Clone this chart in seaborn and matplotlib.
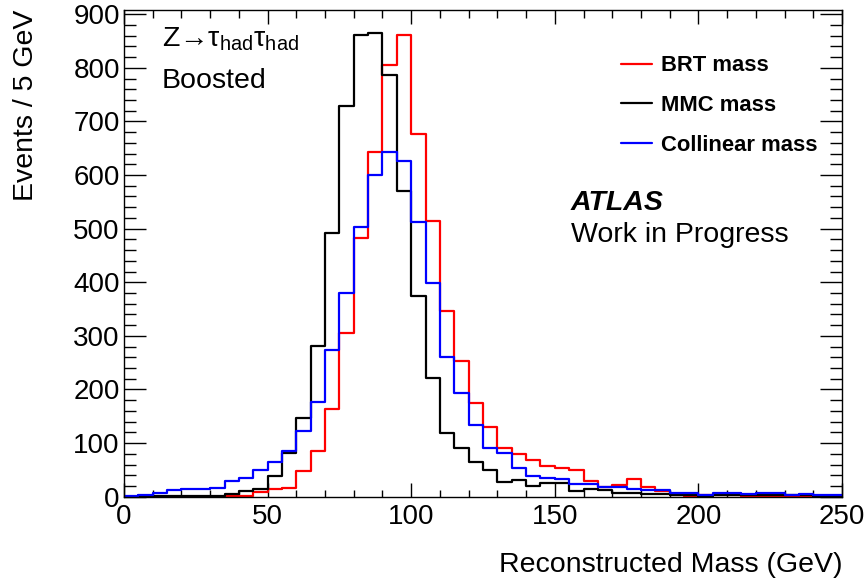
import numpy as np
import pandas as pd
import seaborn as sns
import matplotlib.pyplot as plt
from matplotlib.lines import Line2D
from matplotlib.ticker import MultipleLocator

# 5 GeV bins from 0 to 250
edges = np.arange(0, 255, 5)
centers = edges[:-1] + 2.5

brt_mass = [0, 0, 0, 0, 0, 0, 0, 1, 2, 9,
            14, 17, 48, 86, 163, 306, 483, 643, 806, 861,
            676, 514, 346, 253, 174, 130, 90, 79, 68, 57,
            54, 50, 30, 19, 22, 33, 19, 11, 3, 2,
            3, 3, 3, 2, 1, 1, 1, 1, 1, 1]
mmc_mass = [0, 0, 1, 1, 1, 1, 2, 5, 11, 14,
            39, 81, 146, 281, 492, 728, 861, 865, 786, 570,
            374, 222, 118, 90, 65, 50, 28, 31, 20, 26,
            25, 11, 14, 12, 6, 6, 5, 5, 3, 3,
            2, 3, 3, 4, 4, 4, 3, 4, 2, 1]
coll_mass = [2, 3, 6, 12, 15, 15, 17, 29, 34, 50,
             64, 86, 122, 176, 273, 380, 504, 600, 643, 626,
             512, 398, 261, 194, 134, 90, 81, 53, 39, 34,
             33, 24, 23, 19, 19, 15, 12, 12, 7, 7,
             4, 7, 7, 5, 7, 7, 4, 5, 4, 3]

labels = ['BRT mass', 'MMC mass', 'Collinear mass']
colors = ['#ff0000', '#000000', '#0000ff']

df = pd.DataFrame({
    'mass': np.tile(centers, 3),
    'events': brt_mass + mmc_mass + coll_mass,
    'method': np.repeat(labels, len(centers)),
})

sns.set_style('ticks')
plt.rcParams['font.family'] = ['Liberation Sans', 'DejaVu Sans']
plt.rcParams['mathtext.fontset'] = 'custom'
plt.rcParams['mathtext.rm'] = 'Liberation Sans'
plt.rcParams['mathtext.it'] = 'Liberation Sans:italic'
plt.rcParams['mathtext.bf'] = 'Liberation Sans:bold'
plt.rcParams['text.color'] = 'black'
plt.rcParams['axes.labelcolor'] = 'black'
plt.rcParams['axes.edgecolor'] = 'black'
plt.rcParams['xtick.color'] = 'black'
plt.rcParams['ytick.color'] = 'black'

fig = plt.figure(figsize=(8.66, 5.83), dpi=100)
ax = fig.add_axes([0.1432, 0.148, 0.9723 - 0.1432, 0.983 - 0.148])

for lab, col in zip(labels, colors):
    sub = df[df['method'] == lab]
    sns.histplot(data=sub, x='mass', weights='events', binwidth=5, binrange=(0, 250),
                 element='step', fill=False, color=col, linewidth=1.6, ax=ax)

ax.set_xlim(0, 250)
ax.set_ylim(0, 908)
ax.xaxis.set_major_locator(MultipleLocator(50))
ax.xaxis.set_minor_locator(MultipleLocator(10))
ax.yaxis.set_major_locator(MultipleLocator(100))
ax.yaxis.set_minor_locator(MultipleLocator(20))
ax.tick_params(which='both', direction='in', top=True, right=True, width=1, labelsize=20)
ax.tick_params(axis='x', which='major', length=10, pad=5)
ax.tick_params(axis='x', which='minor', length=5.4)
ax.tick_params(axis='y', which='major', length=15.8, pad=3)
ax.tick_params(axis='y', which='minor', length=8.6)
for s in ax.spines.values():
    s.set_linewidth(1)

ax.set_xlabel('Reconstructed Mass (GeV)', fontsize=20.5, loc='right', labelpad=16)
ax.set_ylabel('Events / 5 GeV', fontsize=20.5, loc='top', labelpad=25)

handles = [Line2D([], [], color=c, linewidth=1.6) for c in colors]
ax.legend(handles, labels, loc='upper left', bbox_to_anchor=(0.692, 0.907),
          frameon=False, borderpad=0, borderaxespad=0, handlelength=1.44,
          handletextpad=0.37, labelspacing=0.86,
          prop={'weight': 'bold', 'size': 15.8})

ax.text(0.053, 0.9246, r'Z→τ$_{\mathrm{had}}$τ$_{\mathrm{had}}$', transform=ax.transAxes,
        fontsize=20.5, va='baseline')
ax.text(0.053, 0.839, 'Boosted', transform=ax.transAxes, fontsize=20.5, va='baseline')
ax.text(0.622, 0.589, 'ATLAS', transform=ax.transAxes, fontsize=20.5,
        fontweight='bold', fontstyle='italic', va='baseline')
ax.text(0.622, 0.524, 'Work in Progress', transform=ax.transAxes, fontsize=20.5,
        va='baseline')

fig.savefig('out.png', dpi=100)
